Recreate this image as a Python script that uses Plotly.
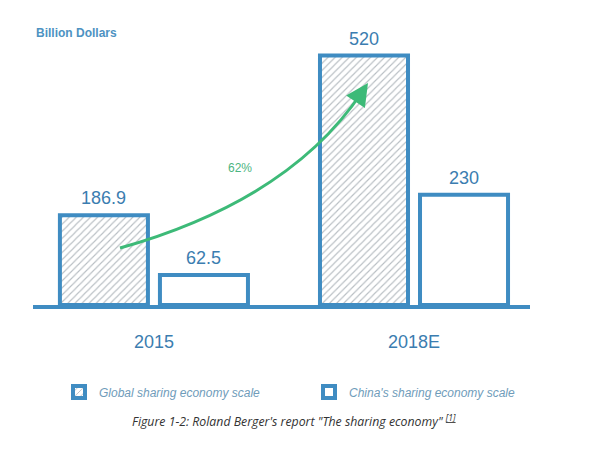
import plotly.graph_objects as go

categories = ["2015", "2018E"]
global_scale = [186.9, 520]
china_scale = [62.5, 230]
series_names = ["Global sharing economy scale", "China's sharing economy scale"]
growth_label = "62%"

BLUE = "#3f8cc2"
TEXT_BLUE = "#3b7db0"
GREEN = "#3dba78"

fig = go.Figure()
fig.add_trace(go.Bar(
    x=categories, y=global_scale, name=series_names[0], legend="legend",
    marker=dict(color="white", line=dict(color=BLUE, width=4),
                pattern=dict(shape="/", fgcolor="#717d87", bgcolor="white", size=5, solidity=0.22)),
    cliponaxis=False,
))
fig.add_trace(go.Bar(
    x=categories, y=china_scale, name=series_names[1], legend="legend2",
    marker=dict(color="white", line=dict(color=BLUE, width=4)),
    cliponaxis=False,
))

# value labels above each bar (x given as category index)
for vals, shift in ((global_scale, -50), (china_scale, 50)):
    for idx, v in enumerate(vals):
        fig.add_annotation(x=idx, y=v, xref="x", yref="y", text=str(v), showarrow=False,
                           xshift=shift, yshift=5, yanchor="bottom",
                           font=dict(size=18, color=TEXT_BLUE, family="Liberation Sans"))

# plot area: x 33..530, y 20..305 (pixels)
L, R, T, B = 33, 530, 20, 305
W, H = R - L, B - T

def px(xp, yp):
    return (xp - L) / W, (B - yp) / H

p0 = px(120, 248)
p1 = px(290, 200)
p2 = px(362, 92)
fig.add_shape(type="path", xref="paper", yref="paper",
              path=f"M {p0[0]},{p0[1]} Q {p1[0]},{p1[1]} {p2[0]},{p2[1]}",
              line=dict(color=GREEN, width=3))
tip = px(368, 83)
fig.add_annotation(xref="paper", yref="paper", x=tip[0], y=tip[1], ax=-8, ay=12,
                   axref="pixel", ayref="pixel", showarrow=True, arrowhead=2,
                   arrowsize=1.5, arrowwidth=3, arrowcolor=GREEN, text="")
lab = px(240, 168)
fig.add_annotation(xref="paper", yref="paper", x=lab[0], y=lab[1], text=growth_label,
                   showarrow=False, yanchor="middle",
                   font=dict(size=12, color="#4cb581", family="Liberation Sans"))

fig.add_annotation(xref="paper", yref="paper", x=(294 - L) / W, y=(B - 421) / H,
                   xanchor="center", yanchor="middle",
                   text="Figure 1-2: Roland Berger's report \"The sharing economy\" <sup><u>[1]</u></sup>",
                   showarrow=False,
                   font=dict(size=12.3, color="#333333", family="Open Sans", style="italic"))

legend_font = dict(size=12, color="#6f9cba", family="Liberation Sans", style="italic")
fig.update_layout(
    width=600, height=449,
    margin=dict(l=L, r=600 - R, t=T, b=449 - B),
    paper_bgcolor="white", plot_bgcolor="white",
    barmode="group", bargap=0.2308, bargroupgap=0.12,
    title=dict(text="<b>Billion Dollars</b>", xref="container", yref="container",
               x=36 / 600, xanchor="left", y=1 - 33 / 449, yanchor="middle",
               font=dict(size=12, color="#4d92c2", family="Liberation Sans")),
    xaxis=dict(range=[-0.465, 1.446], showline=True, linecolor=BLUE, linewidth=4,
               showgrid=False, zeroline=False, ticks="", ticklabelstandoff=17,
               tickfont=dict(size=18, color=TEXT_BLUE, family="Liberation Sans")),
    yaxis=dict(range=[0, 594], visible=False, showgrid=False, zeroline=False),
    showlegend=True,
    legend=dict(orientation="h", xref="container", yref="container",
                x=59 / 600, y=1 - 392 / 449, xanchor="left", yanchor="middle",
                font=legend_font),
    legend2=dict(orientation="h", xref="container", yref="container",
                 x=309 / 600, y=1 - 392 / 449, xanchor="left", yanchor="middle",
                 font=legend_font),
)

fig.write_html("out.html", config={"displayModeBar": False},
               post_script="document.body.style.margin='0';")
